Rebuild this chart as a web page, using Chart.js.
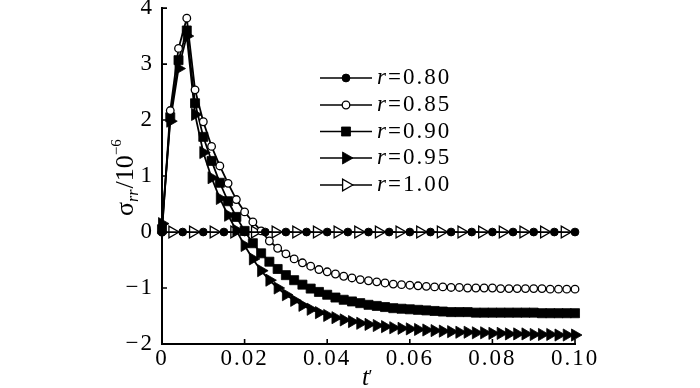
<!DOCTYPE html>
<html>
<head>
<meta charset="utf-8">
<script src="https://cdn.jsdelivr.net/npm/chart.js@4.4.0/dist/chart.umd.min.js"></script>
<style>
html, body { margin: 0; padding: 0; background: #fff; }
canvas { display: block; }
</style>
</head>
<body>
<canvas id="chart_sigma" width="700" height="388"></canvas>
<script>
// time grid of the computed curves (step 0.002)
const tFine = [0, 0.002, 0.004, 0.006, 0.008, 0.01, 0.012, 0.014, 0.016, 0.018,
    0.02, 0.022, 0.024, 0.026, 0.028, 0.03, 0.032, 0.034, 0.036, 0.038,
    0.04, 0.042, 0.044, 0.046, 0.048, 0.05, 0.052, 0.054, 0.056, 0.058,
    0.06, 0.062, 0.064, 0.066, 0.068, 0.07, 0.072, 0.074, 0.076, 0.078,
    0.08, 0.082, 0.084, 0.086, 0.088, 0.09, 0.092, 0.094, 0.096, 0.098, 0.1];
// marker positions of the two flat curves
const tEven = [0, 0.005, 0.01, 0.015, 0.02, 0.025, 0.03, 0.035, 0.04, 0.045, 0.05,
    0.055, 0.06, 0.065, 0.07, 0.075, 0.08, 0.085, 0.09, 0.095, 0.1];
const tOdd = [0.0025, 0.0075, 0.0125, 0.0175, 0.0225, 0.0275, 0.0325, 0.0375, 0.0425, 0.0475,
    0.0525, 0.0575, 0.0625, 0.0675, 0.0725, 0.0775, 0.0825, 0.0875, 0.0925, 0.0975];

const r080 = [0, 0, 0, 0, 0, 0, 0, 0, 0, 0, 0, 0, 0, 0, 0, 0, 0, 0, 0, 0, 0];
const r085 = [0, 2.17, 3.28, 3.82, 2.54, 1.97, 1.53, 1.18, 0.87, 0.58,
    0.36, 0.18, 0.02, -0.16, -0.29, -0.39, -0.48, -0.55, -0.61, -0.67,
    -0.71, -0.75, -0.79, -0.82, -0.85, -0.87, -0.89, -0.91, -0.93, -0.94,
    -0.95, -0.96, -0.97, -0.98, -0.98, -0.99, -0.99, -1.0, -1.0, -1.0,
    -1.0, -1.01, -1.01, -1.01, -1.01, -1.01, -1.01, -1.02, -1.02, -1.02, -1.02];
const r090 = [0.05, 2.05, 3.07, 3.6, 2.3, 1.7, 1.27, 0.88, 0.55, 0.27,
    0.02, -0.2, -0.38, -0.53, -0.66, -0.77, -0.86, -0.94, -1.01, -1.07,
    -1.12, -1.17, -1.21, -1.24, -1.27, -1.3, -1.32, -1.34, -1.36, -1.37,
    -1.38, -1.39, -1.4, -1.41, -1.42, -1.43, -1.43, -1.43, -1.44, -1.44,
    -1.44, -1.44, -1.44, -1.44, -1.44, -1.44, -1.45, -1.45, -1.45, -1.45, -1.45];
const r095 = [0.15, 1.98, 2.92, 3.5, 2.1, 1.42, 0.97, 0.6, 0.3, 0.03,
    -0.24, -0.48, -0.69, -0.86, -1.0, -1.12, -1.22, -1.31, -1.38, -1.44,
    -1.49, -1.53, -1.57, -1.6, -1.63, -1.65, -1.67, -1.69, -1.71, -1.72,
    -1.73, -1.74, -1.75, -1.76, -1.77, -1.78, -1.79, -1.79, -1.8, -1.8,
    -1.81, -1.81, -1.82, -1.82, -1.82, -1.83, -1.83, -1.83, -1.84, -1.84, -1.84];
const r100 = [0, 0, 0, 0, 0, 0, 0, 0, 0, 0, 0, 0, 0, 0, 0, 0, 0, 0, 0, 0];

const seriesLabels = ['0.80', '0.85', '0.90', '0.95', '1.00'];
const xTicks = [0, 0.02, 0.04, 0.06, 0.08, 0.1];
const yTicks = [-2, -1, 0, 1, 2, 3, 4];

const FONT = '"Liberation Serif", "Times New Roman", serif';

function points(xs, ys) {
    return xs.map((x, i) => ({ x: x, y: ys[i] }));
}

function series(label, xs, ys, style) {
    return Object.assign({
        label: label,
        data: points(xs, ys),
        borderColor: '#000',
        borderWidth: 1.8,
        pointBorderColor: '#000',
        pointBorderWidth: 1.3,
        tension: 0,
        clip: false,
    }, style);
}

let datasets = [
    series(seriesLabels[0], tEven, r080, { pointStyle: 'circle', pointRadius: 3.9, pointBackgroundColor: '#000', pointBorderWidth: 1 }),
    series(seriesLabels[1], tFine, r085, { pointStyle: 'circle', pointRadius: 3.8, pointBackgroundColor: '#fff' }),
    series(seriesLabels[2], tFine, r090, { pointStyle: 'rect', pointRadius: 6.4, pointBackgroundColor: '#000', pointBorderWidth: 0.8 }),
    series(seriesLabels[3], tFine, r095, { pointStyle: 'triangle', pointRotation: 90, pointRadius: 7, pointBackgroundColor: '#000', pointBorderWidth: 0.8 }),
    series(seriesLabels[4], tOdd, r100, { pointStyle: 'triangle', pointRotation: 90, pointRadius: 6.8, pointBackgroundColor: '#fff' }),
];

// wide letter spacing like the reference typesetting
const spacing = {
    id: 'spacing',
    beforeDraw(chart) {
        chart.ctx.letterSpacing = '2px';
    }
};

const innerTicks = {
    id: 'innerTicks',
    beforeDatasetsDraw(chart) {
        let { ctx, chartArea, scales } = chart;
        ctx.save();
        ctx.strokeStyle = '#000';
        ctx.lineWidth = 1.6;
        ctx.beginPath();
        xTicks.forEach(v => {
            let px = scales.x.getPixelForValue(v);
            ctx.moveTo(px, chartArea.bottom);
            ctx.lineTo(px, chartArea.bottom - 5);
        });
        yTicks.forEach(v => {
            let py = scales.y.getPixelForValue(v);
            ctx.moveTo(chartArea.left, py);
            ctx.lineTo(chartArea.left + 5, py);
        });
        ctx.stroke();
        ctx.restore();
    }
};

function drawMarker(ctx, ds, x, y) {
    ctx.fillStyle = ds.pointBackgroundColor;
    ctx.strokeStyle = ds.pointBorderColor;
    ctx.lineWidth = ds.pointBorderWidth;
    Chart.helpers.drawPoint(ctx, {
        pointStyle: ds.pointStyle,
        radius: ds.pointRadius,
        rotation: ds.pointRotation || 0,
        borderWidth: ds.pointBorderWidth
    }, x, y);
}

const titlesAndLegend = {
    id: 'titlesAndLegend',
    afterDraw(chart) {
        let ctx = chart.ctx;
        ctx.save();
        ctx.fillStyle = '#000';
        ctx.letterSpacing = '0px';

        // y title: sigma_rr / 10^-6, rotated
        ctx.save();
        ctx.translate(133, 216);
        ctx.rotate(-Math.PI / 2);
        ctx.textBaseline = 'alphabetic';
        ctx.textAlign = 'left';
        let x = 0;
        ctx.font = '26px ' + FONT;
        ctx.fillText('σ', x, 0);
        x += ctx.measureText('σ').width;
        ctx.font = 'italic 16px ' + FONT;
        ctx.fillText('rr', x, 5);
        x += ctx.measureText('rr').width + 1;
        ctx.font = '26px ' + FONT;
        ctx.fillText('/10', x, 0);
        x += ctx.measureText('/10').width;
        ctx.font = '15px ' + FONT;
        ctx.fillText('\u22126', x, -12);
        ctx.restore();

        // x title
        ctx.font = 'italic 25px ' + FONT;
        ctx.textBaseline = 'alphabetic';
        ctx.textAlign = 'left';
        ctx.fillText('t', 362, 385);
        ctx.font = '18px ' + FONT;
        ctx.fillText('\u2032', 368.5, 383);

        // legend
        let rows = [78, 105, 131.5, 158, 185];
        chart.data.datasets.forEach((ds, i) => {
            let y = rows[i];
            ctx.strokeStyle = '#000';
            ctx.lineWidth = 1.7;
            ctx.beginPath();
            ctx.moveTo(320, y);
            ctx.lineTo(372, y);
            ctx.stroke();
            drawMarker(ctx, ds, 346, y);
            ctx.fillStyle = '#000';
            ctx.textBaseline = 'middle';
            ctx.letterSpacing = '2px';
            ctx.font = 'italic 23px ' + FONT;
            ctx.fillText('r', 377, y);
            let w = ctx.measureText('r').width;
            ctx.font = '23px ' + FONT;
            ctx.fillText('=' + ds.label, 377 + w, y);
        });
        ctx.restore();
    }
};

new Chart(document.getElementById('chart_sigma'), {
    type: 'line',
    data: { datasets: datasets },
    options: {
        responsive: false,
        animation: false,
        events: [],
        layout: { padding: { left: 0, top: 6, right: 125, bottom: 0 } },
        plugins: {
            legend: { display: false },
            tooltip: { enabled: false },
        },
        scales: {
            x: {
                type: 'linear',
                min: 0,
                max: 0.1,
                afterBuildTicks: s => { s.ticks = xTicks.map(v => ({ value: v })); },
                afterFit: s => { s.height = 44; s.paddingLeft = 0; s.paddingRight = 0; },
                ticks: {
                    callback: v => v === 0 ? '0' : v.toFixed(2),
                    font: { family: FONT, size: 23 },
                    color: '#000',
                    padding: 1,
                    maxRotation: 0,
                    autoSkip: false,
                },
                grid: { display: false, drawTicks: false },
                border: { display: true, color: '#000', width: 2 },
            },
            y: {
                type: 'linear',
                min: -2,
                max: 4,
                afterBuildTicks: s => { s.ticks = yTicks.map(v => ({ value: v })); },
                afterFit: s => { s.width = 162; s.paddingTop = 0; s.paddingBottom = 0; },
                ticks: {
                    callback: v => String(v).replace('-', '\u2212'),
                    font: { family: FONT, size: 23 },
                    color: '#000',
                    padding: 8,
                    autoSkip: false,
                },
                grid: { display: false, drawTicks: false },
                border: { display: true, color: '#000', width: 2 },
            }
        }
    },
    plugins: [spacing, innerTicks, titlesAndLegend]
});
</script>
</body>
</html>
